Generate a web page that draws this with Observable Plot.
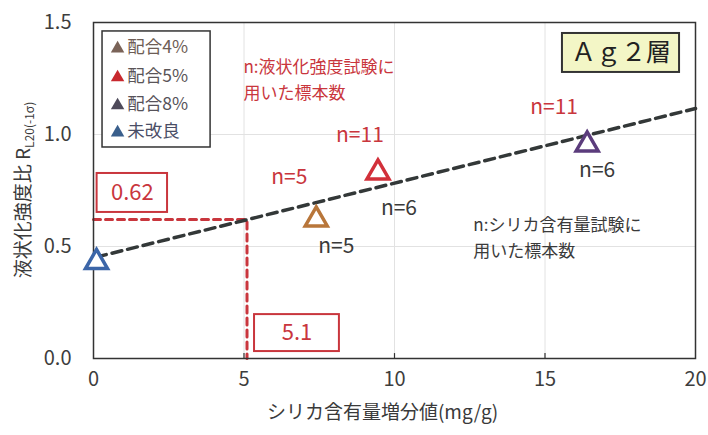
<!DOCTYPE html>
<html><head><meta charset="utf-8">
<script src="https://cdn.jsdelivr.net/npm/d3@7"></script>
<script src="https://cdn.jsdelivr.net/npm/@observablehq/plot@0.6"></script>
<style>
body{margin:0;background:#fff;}
#chart{width:708px;height:435px;}
</style>
</head><body><div id="chart"></div>
<script>
// ---- data ----
const series = ["配合4%", "配合5%", "配合8%", "未改良"];
const silicaIncrease = [7.4, 9.45, 16.4, 0.1];          // mg/g
const strengthRatio = [0.62, 0.83, 0.955, 0.43];       // R_L20(-1σ)
const nStrengthTest = [5, 11, 11, null];
const nSilicaTest = [5, 6, 6, null];
const fitX = [0.1, 20];
const fitY = [0.453, 1.116];
const readX = 5.1;
const readY = 0.62;
const readXLabel = "5.1";
const readYLabel = "0.62";
const xTicks = [0, 5, 10, 15, 20];
const yTicks = [0, 0.5, 1.0, 1.5];
const yTickLabels = ["0.0", "0.5", "1.0", "1.5"];
const gridX = [5, 10, 15];
const gridY = [0.5, 1.0];
const xLabel = "シリカ含有量増分値(mg/g)";
const yLabelMain = "液状化強度比 R";
const yLabelSub = "L20(-1σ)";
const layerLabel = "Ａｇ２層";
const noteStrength = "n:液状化強度試験に\n用いた標本数";
const noteSilica = "n:シリカ含有量試験に\n用いた標本数";

// ---- styles / layout ----
const FONT = "'Noto Sans CJK JP', 'Noto Sans', sans-serif";
const pointColors = ["#b8763a", "#d2303a", "#5b3c7c", "#3c66a8"];
const legendTriColors = ["#7a6358", "#c8282e", "#4e4a5a", "#3a5f8c"];
const legendTextColors = ["#6d5d55", "#5a5558", "#56525a", "#4a4e66"];
const RED = "#c9363d";
const DARK = "#3a3a3a";
// label offsets (px) relative to each point
const redOff = [[-27, -42], [-18, -37], [-33, -37]];
const darkOff = [[20, 27], [21, 36], [10, 26]];
// annotation placements (data coords)
const legendBox = {x1: 0.30, x2: 3.89, y1: 0.942, y2: 1.46};
const legendRowY = [1.388, 1.259, 1.134, 1.013];
const layerBox = {x1: 15.58, x2: 19.47, y1: 1.277, y2: 1.451};
const boxY = {x1: 0.12, x2: 2.46, y1: 0.652, y2: 0.826};
const boxX = {x1: 5.35, x2: 8.17, y1: 0.031, y2: 0.196};

const points = series.map((s, i) => ({
  s, x: silicaIncrease[i], y: strengthRatio[i], color: pointColors[i],
  nS: nStrengthTest[i], nC: nSilicaTest[i]
}));
const fit = fitX.map((x, i) => ({x, y: fitY[i]}));
const readPath = [{x: 0, y: readY}, {x: readX, y: readY}, {x: readX, y: 0}];
const legendRows = series.map((s, i) => ({s, y: legendRowY[i], tri: legendTriColors[i], tc: legendTextColors[i]}));

const marks = [
  Plot.ruleX(gridX, {stroke: "#e2e2e2", strokeWidth: 1}),
  Plot.ruleY(gridY, {stroke: "#e2e2e2", strokeWidth: 1}),
  Plot.ruleX(gridX, {y1: 0, y2: 0.022, stroke: "#333", strokeWidth: 1.2}),
  Plot.axisX(xTicks, {tickSize: 0, tickPadding: 13, fontSize: 20, fill: "#3d3d3d", label: null}),
  Plot.axisY(yTicks, {tickSize: 0, tickPadding: 22, fontSize: 20, fill: "#3d3d3d", label: null,
    tickFormat: d => yTickLabels[yTicks.indexOf(d)]}),
  Plot.line(readPath, {x: "x", y: "y", stroke: RED, strokeWidth: 3, strokeDasharray: "7,5"}),
  Plot.line(fit, {x: "x", y: "y", stroke: "#333838", strokeWidth: 3.5, strokeDasharray: "10,6"}),
  Plot.frame({stroke: "#333", strokeWidth: 1.5}),
  Plot.dot(points, {x: "x", y: "y", symbol: "triangle2", r: 10.5, stroke: "color", fill: "white", strokeWidth: 3.5}),
  // boxes
  Plot.rect([boxY], {x1: "x1", x2: "x2", y1: "y1", y2: "y2", fill: "white", stroke: RED, strokeWidth: 2}),
  Plot.text([boxY], {x: d => (d.x1 + d.x2) / 2, y: d => (d.y1 + d.y2) / 2, text: () => readYLabel, fill: RED, fontSize: 22}),
  Plot.rect([boxX], {x1: "x1", x2: "x2", y1: "y1", y2: "y2", fill: "white", stroke: RED, strokeWidth: 2}),
  Plot.text([boxX], {x: d => (d.x1 + d.x2) / 2, y: d => (d.y1 + d.y2) / 2, text: () => readXLabel, fill: RED, fontSize: 22}),
  Plot.rect([layerBox], {x1: "x1", x2: "x2", y1: "y1", y2: "y2", fill: "#f3f6c6", stroke: "#333", strokeWidth: 2}),
  Plot.text([layerBox], {x: d => (d.x1 + d.x2) / 2, y: d => (d.y1 + d.y2) / 2, text: () => layerLabel, fill: "#222", fontSize: 25}),
  // notes
  Plot.text([noteStrength], {x: 4.98, y: 1.254, text: d => d, fill: RED, fontSize: 17, textAnchor: "start", lineHeight: 1.55}),
  Plot.text([noteSilica], {x: 12.62, y: 0.549, text: d => d, fill: DARK, fontSize: 17, textAnchor: "start", lineHeight: 1.53}),
  // legend
  Plot.rect([legendBox], {x1: "x1", x2: "x2", y1: "y1", y2: "y2", fill: "white", stroke: "#333", strokeWidth: 1.5}),
  Plot.dot(legendRows, {x: 0.80, y: "y", symbol: "triangle", r: 5, fill: "tri", stroke: "none", dy: 1}),
  Plot.text(legendRows, {x: 1.12, y: "y", text: "s", fill: "tc", fontSize: 17.5, textAnchor: "start"}),
  // x label
  Plot.text([xLabel], {frameAnchor: "bottom", text: d => d, dy: 60, dx: -12, fontSize: 19, fill: DARK})
];
points.slice(0, 3).forEach((p, i) => {
  marks.push(Plot.text([p], {x: "x", y: "y", text: d => `n=${d.nS}`, fill: RED, fontSize: 21, dx: redOff[i][0], dy: redOff[i][1]}));
  marks.push(Plot.text([p], {x: "x", y: "y", text: d => `n=${d.nC}`, fill: DARK, fontSize: 21, dx: darkOff[i][0], dy: darkOff[i][1]}));
});

const chart = Plot.plot({
  width: 708, height: 435,
  marginLeft: 93, marginRight: 13, marginTop: 22, marginBottom: 77,
  x: {domain: [0, 20]},
  y: {domain: [0, 1.5]},
  color: {type: "identity"},
  style: {fontFamily: FONT, background: "white"},
  marks
});

// rotated y-axis label with subscript
const svg = d3.select(chart);
const yl = svg.append("text")
  .attr("transform", "translate(30,190) rotate(-90)")
  .attr("text-anchor", "middle")
  .attr("fill", DARK)
  .style("font-family", FONT);
yl.append("tspan").attr("font-size", 19).text(yLabelMain);
yl.append("tspan").attr("font-size", 12).attr("dy", 4).text(yLabelSub);

document.getElementById("chart").appendChild(chart);
</script>
</body></html>
